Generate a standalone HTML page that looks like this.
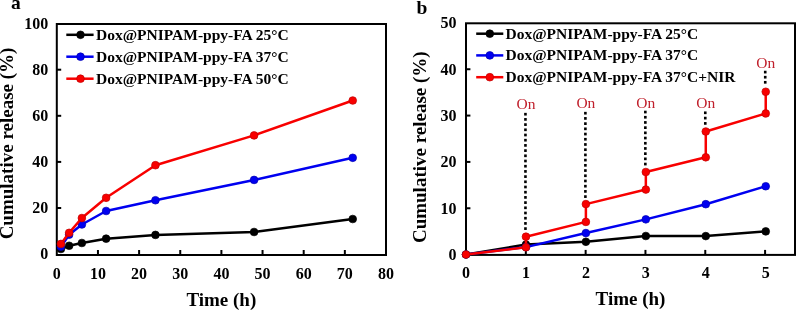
<!DOCTYPE html>
<html><head><meta charset="utf-8"><style>
html,body{margin:0;padding:0;background:#fff;width:796px;height:310px;overflow:hidden}
svg{display:block;will-change:transform}
</style></head><body>
<svg width="796" height="310" viewBox="0 0 796 310">
<rect x="56.8" y="24" width="329.2" height="231" fill="none" stroke="#000" stroke-width="2"/>
<line x1="97.95" y1="255" x2="97.95" y2="250" stroke="#000" stroke-width="2"/>
<line x1="139.10" y1="255" x2="139.10" y2="250" stroke="#000" stroke-width="2"/>
<line x1="180.25" y1="255" x2="180.25" y2="250" stroke="#000" stroke-width="2"/>
<line x1="221.40" y1="255" x2="221.40" y2="250" stroke="#000" stroke-width="2"/>
<line x1="262.55" y1="255" x2="262.55" y2="250" stroke="#000" stroke-width="2"/>
<line x1="303.70" y1="255" x2="303.70" y2="250" stroke="#000" stroke-width="2"/>
<line x1="344.85" y1="255" x2="344.85" y2="250" stroke="#000" stroke-width="2"/>
<line x1="56.8" y1="208.00" x2="61.199999999999996" y2="208.00" stroke="#000" stroke-width="2"/>
<line x1="56.8" y1="161.90" x2="61.199999999999996" y2="161.90" stroke="#000" stroke-width="2"/>
<line x1="56.8" y1="115.80" x2="61.199999999999996" y2="115.80" stroke="#000" stroke-width="2"/>
<line x1="56.8" y1="69.70" x2="61.199999999999996" y2="69.70" stroke="#000" stroke-width="2"/>
<text x="56.80" y="278.7" text-anchor="middle" font-family="Liberation Serif" font-weight="bold" font-size="16">0</text>
<text x="97.95" y="278.7" text-anchor="middle" font-family="Liberation Serif" font-weight="bold" font-size="16">10</text>
<text x="139.10" y="278.7" text-anchor="middle" font-family="Liberation Serif" font-weight="bold" font-size="16">20</text>
<text x="180.25" y="278.7" text-anchor="middle" font-family="Liberation Serif" font-weight="bold" font-size="16">30</text>
<text x="221.40" y="278.7" text-anchor="middle" font-family="Liberation Serif" font-weight="bold" font-size="16">40</text>
<text x="262.55" y="278.7" text-anchor="middle" font-family="Liberation Serif" font-weight="bold" font-size="16">50</text>
<text x="303.70" y="278.7" text-anchor="middle" font-family="Liberation Serif" font-weight="bold" font-size="16">60</text>
<text x="344.85" y="278.7" text-anchor="middle" font-family="Liberation Serif" font-weight="bold" font-size="16">70</text>
<text x="386.00" y="278.7" text-anchor="middle" font-family="Liberation Serif" font-weight="bold" font-size="16">80</text>
<text x="48.2" y="259.40" text-anchor="end" font-family="Liberation Serif" font-weight="bold" font-size="16">0</text>
<text x="48.2" y="213.30" text-anchor="end" font-family="Liberation Serif" font-weight="bold" font-size="16">20</text>
<text x="48.2" y="167.20" text-anchor="end" font-family="Liberation Serif" font-weight="bold" font-size="16">40</text>
<text x="48.2" y="121.10" text-anchor="end" font-family="Liberation Serif" font-weight="bold" font-size="16">60</text>
<text x="48.2" y="75.00" text-anchor="end" font-family="Liberation Serif" font-weight="bold" font-size="16">80</text>
<text x="48.2" y="28.90" text-anchor="end" font-family="Liberation Serif" font-weight="bold" font-size="16">100</text>
<text x="221.3" y="305.5" text-anchor="middle" font-family="Liberation Serif" font-weight="bold" font-size="19">Time (h)</text>
<text transform="translate(13.3,143.5) rotate(-90)" text-anchor="middle" font-family="Liberation Serif" font-weight="bold" font-size="19">Cumulative release (%)</text>
<text x="11.1" y="9.4" font-family="Liberation Serif" font-weight="bold" font-size="19.5">a</text>
<path d="M60.91,248.99 L69.13,245.76 L81.87,242.99 L106.12,238.67 L155.44,234.90 L254.08,231.99 L352.72,219.01" fill="none" stroke="#000000" stroke-width="2.5" stroke-linejoin="round"/>
<circle cx="60.91" cy="248.99" r="3.85" fill="#000000" stroke="#000" stroke-width="0.7"/>
<circle cx="69.13" cy="245.76" r="3.85" fill="#000000" stroke="#000" stroke-width="0.7"/>
<circle cx="81.87" cy="242.99" r="3.85" fill="#000000" stroke="#000" stroke-width="0.7"/>
<circle cx="106.12" cy="238.67" r="3.85" fill="#000000" stroke="#000" stroke-width="0.7"/>
<circle cx="155.44" cy="234.90" r="3.85" fill="#000000" stroke="#000" stroke-width="0.7"/>
<circle cx="254.08" cy="231.99" r="3.85" fill="#000000" stroke="#000" stroke-width="0.7"/>
<circle cx="352.72" cy="219.01" r="3.85" fill="#000000" stroke="#000" stroke-width="0.7"/>
<path d="M60.91,246.68 L69.13,234.67 L81.87,224.51 L106.12,210.99 L155.44,200.25 L254.08,179.93 L352.72,157.80" fill="none" stroke="#0000f0" stroke-width="2.5" stroke-linejoin="round"/>
<circle cx="60.91" cy="246.68" r="3.85" fill="#0000f0" stroke="#0000b0" stroke-width="0.7"/>
<circle cx="69.13" cy="234.67" r="3.85" fill="#0000f0" stroke="#0000b0" stroke-width="0.7"/>
<circle cx="81.87" cy="224.51" r="3.85" fill="#0000f0" stroke="#0000b0" stroke-width="0.7"/>
<circle cx="106.12" cy="210.99" r="3.85" fill="#0000f0" stroke="#0000b0" stroke-width="0.7"/>
<circle cx="155.44" cy="200.25" r="3.85" fill="#0000f0" stroke="#0000b0" stroke-width="0.7"/>
<circle cx="254.08" cy="179.93" r="3.85" fill="#0000f0" stroke="#0000b0" stroke-width="0.7"/>
<circle cx="352.72" cy="157.80" r="3.85" fill="#0000f0" stroke="#0000b0" stroke-width="0.7"/>
<path d="M60.91,243.91 L69.13,232.82 L81.87,218.04 L106.12,197.80 L155.44,165.21 L254.08,135.41 L352.72,100.51" fill="none" stroke="#f80000" stroke-width="2.5" stroke-linejoin="round"/>
<circle cx="60.91" cy="243.91" r="3.85" fill="#f80000" stroke="#c00000" stroke-width="0.7"/>
<circle cx="69.13" cy="232.82" r="3.85" fill="#f80000" stroke="#c00000" stroke-width="0.7"/>
<circle cx="81.87" cy="218.04" r="3.85" fill="#f80000" stroke="#c00000" stroke-width="0.7"/>
<circle cx="106.12" cy="197.80" r="3.85" fill="#f80000" stroke="#c00000" stroke-width="0.7"/>
<circle cx="155.44" cy="165.21" r="3.85" fill="#f80000" stroke="#c00000" stroke-width="0.7"/>
<circle cx="254.08" cy="135.41" r="3.85" fill="#f80000" stroke="#c00000" stroke-width="0.7"/>
<circle cx="352.72" cy="100.51" r="3.85" fill="#f80000" stroke="#c00000" stroke-width="0.7"/>
<line x1="66.3" y1="34.8" x2="93.6" y2="34.8" stroke="#000000" stroke-width="2.5"/>
<circle cx="80.5" cy="34.8" r="3.85" fill="#000000" stroke="#000" stroke-width="0.7"/>
<text x="96" y="40.3" font-family="Liberation Serif" font-weight="bold" font-size="15.5">Dox@PNIPAM-ppy-FA 25°C</text>
<line x1="66.3" y1="56.7" x2="93.6" y2="56.7" stroke="#0000f0" stroke-width="2.5"/>
<circle cx="80.5" cy="56.7" r="3.85" fill="#0000f0" stroke="#0000b0" stroke-width="0.7"/>
<text x="96" y="62.3" font-family="Liberation Serif" font-weight="bold" font-size="15.5">Dox@PNIPAM-ppy-FA 37°C</text>
<line x1="66.3" y1="78.7" x2="93.6" y2="78.7" stroke="#f80000" stroke-width="2.5"/>
<circle cx="80.5" cy="78.7" r="3.85" fill="#f80000" stroke="#c00000" stroke-width="0.7"/>
<text x="96" y="84.3" font-family="Liberation Serif" font-weight="bold" font-size="15.5">Dox@PNIPAM-ppy-FA 50°C</text>
<rect x="466" y="23.3" width="329" height="231.6" fill="none" stroke="#000" stroke-width="2"/>
<line x1="525.82" y1="254.9" x2="525.82" y2="249.9" stroke="#000" stroke-width="2"/>
<line x1="585.64" y1="254.9" x2="585.64" y2="249.9" stroke="#000" stroke-width="2"/>
<line x1="645.45" y1="254.9" x2="645.45" y2="249.9" stroke="#000" stroke-width="2"/>
<line x1="705.27" y1="254.9" x2="705.27" y2="249.9" stroke="#000" stroke-width="2"/>
<line x1="765.09" y1="254.9" x2="765.09" y2="249.9" stroke="#000" stroke-width="2"/>
<line x1="466" y1="208.26" x2="470.4" y2="208.26" stroke="#000" stroke-width="2"/>
<line x1="466" y1="161.92" x2="470.4" y2="161.92" stroke="#000" stroke-width="2"/>
<line x1="466" y1="115.58" x2="470.4" y2="115.58" stroke="#000" stroke-width="2"/>
<line x1="466" y1="69.24" x2="470.4" y2="69.24" stroke="#000" stroke-width="2"/>
<text x="466.00" y="278.4" text-anchor="middle" font-family="Liberation Serif" font-weight="bold" font-size="16">0</text>
<text x="525.95" y="278.4" text-anchor="middle" font-family="Liberation Serif" font-weight="bold" font-size="16">1</text>
<text x="585.89" y="278.4" text-anchor="middle" font-family="Liberation Serif" font-weight="bold" font-size="16">2</text>
<text x="645.84" y="278.4" text-anchor="middle" font-family="Liberation Serif" font-weight="bold" font-size="16">3</text>
<text x="705.78" y="278.4" text-anchor="middle" font-family="Liberation Serif" font-weight="bold" font-size="16">4</text>
<text x="765.73" y="278.4" text-anchor="middle" font-family="Liberation Serif" font-weight="bold" font-size="16">5</text>
<text x="456.6" y="259.90" text-anchor="end" font-family="Liberation Serif" font-weight="bold" font-size="16">0</text>
<text x="456.6" y="213.56" text-anchor="end" font-family="Liberation Serif" font-weight="bold" font-size="16">10</text>
<text x="456.6" y="167.22" text-anchor="end" font-family="Liberation Serif" font-weight="bold" font-size="16">20</text>
<text x="456.6" y="120.88" text-anchor="end" font-family="Liberation Serif" font-weight="bold" font-size="16">30</text>
<text x="456.6" y="74.54" text-anchor="end" font-family="Liberation Serif" font-weight="bold" font-size="16">40</text>
<text x="456.6" y="28.20" text-anchor="end" font-family="Liberation Serif" font-weight="bold" font-size="16">50</text>
<text x="630.5" y="305.3" text-anchor="middle" font-family="Liberation Serif" font-weight="bold" font-size="19">Time (h)</text>
<text transform="translate(425.8,147.2) rotate(-90)" text-anchor="middle" font-family="Liberation Serif" font-weight="bold" font-size="19">Cumulative release (%)</text>
<text x="416.5" y="14" font-family="Liberation Serif" font-weight="bold" font-size="19.5">b</text>
<rect x="524.15" y="112.85" width="2.6" height="2.7" fill="#000"/>
<rect x="524.15" y="118.05" width="2.6" height="2.7" fill="#000"/>
<rect x="524.15" y="123.25" width="2.6" height="2.7" fill="#000"/>
<rect x="524.15" y="128.45" width="2.6" height="2.7" fill="#000"/>
<rect x="524.15" y="133.65" width="2.6" height="2.7" fill="#000"/>
<rect x="524.15" y="138.85" width="2.6" height="2.7" fill="#000"/>
<rect x="524.15" y="144.05" width="2.6" height="2.7" fill="#000"/>
<rect x="524.15" y="149.25" width="2.6" height="2.7" fill="#000"/>
<rect x="524.15" y="154.45" width="2.6" height="2.7" fill="#000"/>
<rect x="524.15" y="159.65" width="2.6" height="2.7" fill="#000"/>
<rect x="524.15" y="164.85" width="2.6" height="2.7" fill="#000"/>
<rect x="524.15" y="170.05" width="2.6" height="2.7" fill="#000"/>
<rect x="524.15" y="175.25" width="2.6" height="2.7" fill="#000"/>
<rect x="524.15" y="180.45" width="2.6" height="2.7" fill="#000"/>
<rect x="524.15" y="185.65" width="2.6" height="2.7" fill="#000"/>
<rect x="524.15" y="190.85" width="2.6" height="2.7" fill="#000"/>
<rect x="524.15" y="196.05" width="2.6" height="2.7" fill="#000"/>
<rect x="524.15" y="201.25" width="2.6" height="2.7" fill="#000"/>
<rect x="524.15" y="206.45" width="2.6" height="2.7" fill="#000"/>
<rect x="524.15" y="211.65" width="2.6" height="2.7" fill="#000"/>
<rect x="524.15" y="216.85" width="2.6" height="2.7" fill="#000"/>
<rect x="524.15" y="222.05" width="2.6" height="2.7" fill="#000"/>
<rect x="524.15" y="227.25" width="2.6" height="2.7" fill="#000"/>
<rect x="584.09" y="111.85" width="2.6" height="2.7" fill="#000"/>
<rect x="584.09" y="117.06" width="2.6" height="2.7" fill="#000"/>
<rect x="584.09" y="122.28" width="2.6" height="2.7" fill="#000"/>
<rect x="584.09" y="127.49" width="2.6" height="2.7" fill="#000"/>
<rect x="584.09" y="132.70" width="2.6" height="2.7" fill="#000"/>
<rect x="584.09" y="137.91" width="2.6" height="2.7" fill="#000"/>
<rect x="584.09" y="143.12" width="2.6" height="2.7" fill="#000"/>
<rect x="584.09" y="148.34" width="2.6" height="2.7" fill="#000"/>
<rect x="584.09" y="153.55" width="2.6" height="2.7" fill="#000"/>
<rect x="584.09" y="158.76" width="2.6" height="2.7" fill="#000"/>
<rect x="584.09" y="163.97" width="2.6" height="2.7" fill="#000"/>
<rect x="584.09" y="169.19" width="2.6" height="2.7" fill="#000"/>
<rect x="584.09" y="174.40" width="2.6" height="2.7" fill="#000"/>
<rect x="584.09" y="179.61" width="2.6" height="2.7" fill="#000"/>
<rect x="584.09" y="184.83" width="2.6" height="2.7" fill="#000"/>
<rect x="584.09" y="190.04" width="2.6" height="2.7" fill="#000"/>
<rect x="584.09" y="195.25" width="2.6" height="2.7" fill="#000"/>
<rect x="644.04" y="110.70" width="2.6" height="2.7" fill="#000"/>
<rect x="644.04" y="115.90" width="2.6" height="2.7" fill="#000"/>
<rect x="644.04" y="121.10" width="2.6" height="2.7" fill="#000"/>
<rect x="644.04" y="126.30" width="2.6" height="2.7" fill="#000"/>
<rect x="644.04" y="131.50" width="2.6" height="2.7" fill="#000"/>
<rect x="644.04" y="136.70" width="2.6" height="2.7" fill="#000"/>
<rect x="644.04" y="141.90" width="2.6" height="2.7" fill="#000"/>
<rect x="644.04" y="147.10" width="2.6" height="2.7" fill="#000"/>
<rect x="644.04" y="152.30" width="2.6" height="2.7" fill="#000"/>
<rect x="644.04" y="157.50" width="2.6" height="2.7" fill="#000"/>
<rect x="644.04" y="162.70" width="2.6" height="2.7" fill="#000"/>
<rect x="703.98" y="111.45" width="2.6" height="2.7" fill="#000"/>
<rect x="703.98" y="116.75" width="2.6" height="2.7" fill="#000"/>
<rect x="703.98" y="122.05" width="2.6" height="2.7" fill="#000"/>
<rect x="763.93" y="70.75" width="2.6" height="2.7" fill="#000"/>
<rect x="763.93" y="75.85" width="2.6" height="2.7" fill="#000"/>
<rect x="763.93" y="80.95" width="2.6" height="2.7" fill="#000"/>
<text x="525.95" y="108.5" text-anchor="middle" font-family="Liberation Serif" font-size="15.5" fill="#c0202c">On</text>
<text x="585.89" y="108" text-anchor="middle" font-family="Liberation Serif" font-size="15.5" fill="#c0202c">On</text>
<text x="645.84" y="108" text-anchor="middle" font-family="Liberation Serif" font-size="15.5" fill="#c0202c">On</text>
<text x="705.78" y="108" text-anchor="middle" font-family="Liberation Serif" font-size="15.5" fill="#c0202c">On</text>
<text x="765.73" y="67.5" text-anchor="middle" font-family="Liberation Serif" font-size="15.5" fill="#c0202c">On</text>
<path d="M466.00,254.50 L525.95,244.56 L585.89,241.78 L645.84,236.00 L705.78,236.10 L765.73,231.38" fill="none" stroke="#000000" stroke-width="2.5" stroke-linejoin="round"/>
<circle cx="466.00" cy="254.50" r="3.85" fill="#000000" stroke="#000" stroke-width="0.7"/>
<circle cx="525.95" cy="244.56" r="3.85" fill="#000000" stroke="#000" stroke-width="0.7"/>
<circle cx="585.89" cy="241.78" r="3.85" fill="#000000" stroke="#000" stroke-width="0.7"/>
<circle cx="645.84" cy="236.00" r="3.85" fill="#000000" stroke="#000" stroke-width="0.7"/>
<circle cx="705.78" cy="236.10" r="3.85" fill="#000000" stroke="#000" stroke-width="0.7"/>
<circle cx="765.73" cy="231.38" r="3.85" fill="#000000" stroke="#000" stroke-width="0.7"/>
<path d="M466.00,254.50 L525.95,247.10 L585.89,233.09 L645.84,219.36 L705.78,204.19 L765.73,186.25" fill="none" stroke="#0000f0" stroke-width="2.5" stroke-linejoin="round"/>
<circle cx="466.00" cy="254.50" r="3.85" fill="#0000f0" stroke="#0000b0" stroke-width="0.7"/>
<circle cx="525.95" cy="247.10" r="3.85" fill="#0000f0" stroke="#0000b0" stroke-width="0.7"/>
<circle cx="585.89" cy="233.09" r="3.85" fill="#0000f0" stroke="#0000b0" stroke-width="0.7"/>
<circle cx="645.84" cy="219.36" r="3.85" fill="#0000f0" stroke="#0000b0" stroke-width="0.7"/>
<circle cx="705.78" cy="204.19" r="3.85" fill="#0000f0" stroke="#0000b0" stroke-width="0.7"/>
<circle cx="765.73" cy="186.25" r="3.85" fill="#0000f0" stroke="#0000b0" stroke-width="0.7"/>
<path d="M466.00,254.50 L525.95,247.29 L525.95,236.70 L585.89,221.90 L585.89,204.10 L645.84,189.58 L645.84,172.01 L705.78,157.30 L705.78,131.50 L765.73,113.47 L765.73,91.74" fill="none" stroke="#f80000" stroke-width="2.5" stroke-linejoin="round"/>
<circle cx="466.00" cy="254.50" r="3.85" fill="#f80000" stroke="#c00000" stroke-width="0.7"/>
<circle cx="525.95" cy="247.29" r="3.85" fill="#f80000" stroke="#c00000" stroke-width="0.7"/>
<circle cx="525.95" cy="236.70" r="3.85" fill="#f80000" stroke="#c00000" stroke-width="0.7"/>
<circle cx="585.89" cy="221.90" r="3.85" fill="#f80000" stroke="#c00000" stroke-width="0.7"/>
<circle cx="585.89" cy="204.10" r="3.85" fill="#f80000" stroke="#c00000" stroke-width="0.7"/>
<circle cx="645.84" cy="189.58" r="3.85" fill="#f80000" stroke="#c00000" stroke-width="0.7"/>
<circle cx="645.84" cy="172.01" r="3.85" fill="#f80000" stroke="#c00000" stroke-width="0.7"/>
<circle cx="705.78" cy="157.30" r="3.85" fill="#f80000" stroke="#c00000" stroke-width="0.7"/>
<circle cx="705.78" cy="131.50" r="3.85" fill="#f80000" stroke="#c00000" stroke-width="0.7"/>
<circle cx="765.73" cy="113.47" r="3.85" fill="#f80000" stroke="#c00000" stroke-width="0.7"/>
<circle cx="765.73" cy="91.74" r="3.85" fill="#f80000" stroke="#c00000" stroke-width="0.7"/>
<line x1="476.2" y1="33.7" x2="503.3" y2="33.7" stroke="#000000" stroke-width="2.5"/>
<circle cx="489.8" cy="33.7" r="3.85" fill="#000000" stroke="#000" stroke-width="0.7"/>
<text x="505.5" y="38.6" font-family="Liberation Serif" font-weight="bold" font-size="15.5">Dox@PNIPAM-ppy-FA 25°C</text>
<line x1="476.2" y1="55.4" x2="503.3" y2="55.4" stroke="#0000f0" stroke-width="2.5"/>
<circle cx="489.8" cy="55.4" r="3.85" fill="#0000f0" stroke="#0000b0" stroke-width="0.7"/>
<text x="505.5" y="60.3" font-family="Liberation Serif" font-weight="bold" font-size="15.5">Dox@PNIPAM-ppy-FA 37°C</text>
<line x1="476.2" y1="77.2" x2="503.3" y2="77.2" stroke="#f80000" stroke-width="2.5"/>
<circle cx="489.8" cy="77.2" r="3.85" fill="#f80000" stroke="#c00000" stroke-width="0.7"/>
<text x="505.5" y="82.1" font-family="Liberation Serif" font-weight="bold" font-size="15.5">Dox@PNIPAM-ppy-FA 37°C+NIR</text>
</svg>
</body></html>
